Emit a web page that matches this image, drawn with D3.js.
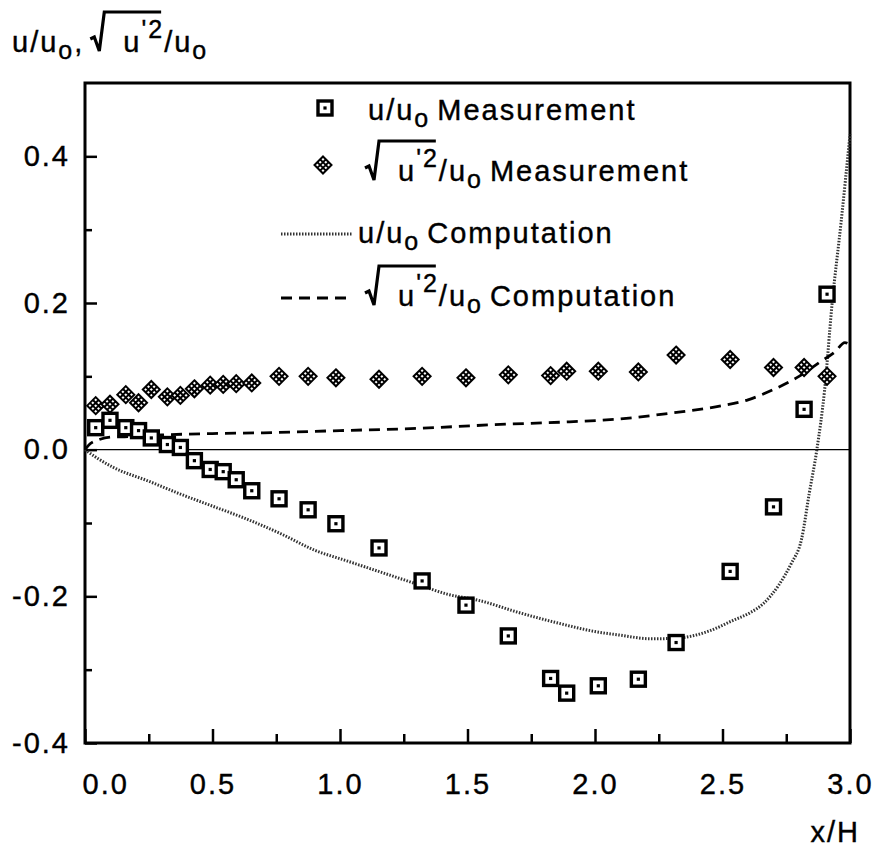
<!DOCTYPE html>
<html>
<head>
<meta charset="utf-8">
<script src="https://cdn.jsdelivr.net/npm/d3@7"></script>
<style>
  body { margin: 0; background: #fff; }
  text { font-family: "Liberation Sans", Arial, sans-serif; fill: #000; stroke: #000; stroke-width: 0.4px; }
</style>
</head>
<body>
<div id="chart"></div>
<script>
// measurement stations (x/H), shared by both measured series
const measX = [0.042, 0.098, 0.16, 0.21, 0.26, 0.323, 0.374, 0.429, 0.491, 0.542, 0.593, 0.654,
  0.761, 0.875, 0.984, 1.153, 1.322, 1.494, 1.66, 1.826, 1.889, 2.013, 2.17, 2.318, 2.53, 2.70, 2.82, 2.91];
const uMeas = [0.030, 0.040, 0.030, 0.026, 0.016, 0.007, 0.003, -0.015, -0.027, -0.030, -0.041, -0.056,
  -0.067, -0.082, -0.101, -0.134, -0.179, -0.212, -0.254, -0.312, -0.332, -0.322, -0.313, -0.263, -0.166, -0.078, 0.055, 0.212];
const rmsMeas = [0.060, 0.062, 0.075, 0.064, 0.082, 0.072, 0.074, 0.083, 0.088, 0.089, 0.090, 0.091,
  0.100, 0.100, 0.098, 0.096, 0.100, 0.098, 0.102, 0.101, 0.107, 0.107, 0.106, 0.129, 0.123, 0.112, 0.112, 0.100];

// computed curves
const uCompX = [0, 0.05, 0.11, 0.25, 0.37, 0.5, 0.63, 0.77, 0.9, 1.03, 1.16, 1.29, 1.42, 1.55, 1.7, 1.85, 2.0,
  2.1, 2.22, 2.32, 2.45, 2.54, 2.61, 2.66, 2.72, 2.77, 2.81, 2.84, 2.87, 2.9, 2.93, 2.965, 3.0];
const uComp = [0, -0.012, -0.024, -0.043, -0.060, -0.077, -0.094, -0.115, -0.137, -0.152, -0.167, -0.182, -0.197,
  -0.206, -0.222, -0.236, -0.248, -0.253, -0.258, -0.257, -0.247, -0.233, -0.222, -0.210, -0.185, -0.155, -0.122,
  -0.06, 0, 0.08, 0.20, 0.31, 0.43];
const rmsCompX = [0, 0.02, 0.05, 0.1, 0.2, 0.3, 0.5, 0.7, 1.0, 1.3, 1.6, 1.9, 2.1, 2.3, 2.5, 2.6, 2.7, 2.8,
  2.88, 2.94, 2.98, 3.0];
const rmsComp = [0, 0.008, 0.013, 0.017, 0.018, 0.020, 0.022, 0.023, 0.026, 0.029, 0.034, 0.038, 0.042, 0.050,
  0.060, 0.068, 0.082, 0.100, 0.119, 0.133, 0.146, 0.143];

const xMajor = [0, 0.5, 1, 1.5, 2, 2.5, 3];
const xMajorLabels = ["0.0", "0.5", "1.0", "1.5", "2.0", "2.5", "3.0"];
const xMinor = [0.25, 0.75, 1.25, 1.75, 2.25, 2.75];
const yMajor = [-0.4, -0.2, 0, 0.2, 0.4];
const yMajorLabels = ["-0.4", "-0.2", "0.0", "0.2", "0.4"];
const yMinor = [-0.3, -0.1, 0.1, 0.3];

const W = 874, H = 847;
const FS = 29, LS = 2, SUB = 25;

const svg = d3.select("#chart").append("svg")
  .attr("width", W).attr("height", H)
  .style("letter-spacing", LS + "px")
  .attr("font-size", FS);

const x = d3.scaleLinear().domain([0, 3]).range([85, 850]);
const y = d3.scaleLinear().domain([-0.4, 0.5]).range([743, 83]);

// axes: ticks point inward
const xAxis = svg.append("g").attr("transform", `translate(0,${y(-0.4)})`)
  .call(d3.axisBottom(x).tickValues(xMajor).tickSizeInner(-14).tickSizeOuter(0).tickPadding(30)
    .tickFormat((d, i) => xMajorLabels[i]));
svg.append("g").attr("transform", `translate(0,${y(-0.4)})`)
  .call(d3.axisBottom(x).tickValues(xMinor).tickSizeInner(-9).tickSizeOuter(0).tickFormat(""));
svg.append("g").attr("transform", `translate(${x(0)},0)`)
  .call(d3.axisLeft(y).tickValues(yMajor).tickSizeInner(-12).tickSizeOuter(0).tickPadding(15)
    .tickFormat((d, i) => yMajorLabels[i]));
svg.append("g").attr("transform", `translate(${x(0)},0)`)
  .call(d3.axisLeft(y).tickValues(yMinor).tickSizeInner(-7).tickSizeOuter(0).tickFormat(""));

svg.selectAll(".domain").remove();
svg.selectAll(".tick line").attr("stroke", "#000").attr("stroke-width", 2.5);
svg.selectAll(".tick text").attr("font-size", FS).attr("font-family", null).attr("fill", "#000");
// first x label sits to the right of the corner
xAxis.selectAll(".tick text").filter((d) => d === 0).attr("text-anchor", "start").attr("dx", "-3");

// frame
svg.append("rect")
  .attr("x", x(0)).attr("y", y(0.5))
  .attr("width", x(3) - x(0)).attr("height", y(-0.4) - y(0.5))
  .attr("fill", "none").attr("stroke", "#000").attr("stroke-width", 3);

// zero line
svg.append("line")
  .attr("x1", x(0)).attr("x2", x(3)).attr("y1", y(0)).attr("y2", y(0))
  .attr("stroke", "#000").attr("stroke-width", 1.2);

// computed curves
const uLine = d3.line().x((d, i) => x(uCompX[i])).y((d) => y(d)).curve(d3.curveMonotoneX);
const rmsLine = d3.line().x((d, i) => x(rmsCompX[i])).y((d) => y(d)).curve(d3.curveMonotoneX);

const dotStyle = (s) => s.attr("fill", "none").attr("stroke", "#333").attr("stroke-width", 3)
  .attr("stroke-dasharray", "1.5 1.5");
const dashStyle = (s) => s.attr("fill", "none").attr("stroke", "#000").attr("stroke-width", 2.8)
  .attr("stroke-dasharray", "11 7");

svg.append("path").datum(uComp).attr("d", uLine).call(dotStyle);
svg.append("path").datum(rmsComp).attr("d", rmsLine).call(dashStyle);

// marker helpers
function squareMark(g) {
  g.append("rect").attr("x", -7).attr("y", -7).attr("width", 14).attr("height", 14)
    .attr("fill", "#fff").attr("stroke", "#000").attr("stroke-width", 3.4);
  g.append("rect").attr("x", -1.6).attr("y", -1.6).attr("width", 3.2).attr("height", 3.2).attr("fill", "#000");
}
function diamondMark(g) {
  const s = 8.5;
  let p = `M0,${-s}L${s},0L0,${s}L${-s},0Z`;
  [1 / 3, 2 / 3].forEach((t) => {
    p += `M${-s + t * s},${t * s}L${t * s},${-s + t * s}`;
    p += `M${-s + t * s},${-t * s}L${t * s},${s - t * s}`;
  });
  g.append("path").attr("d", p).attr("fill", "#fff").attr("stroke", "#000").attr("stroke-width", 2);
}

svg.append("g").selectAll("g").data(rmsMeas).join("g")
  .attr("transform", (d, i) => `translate(${x(measX[i])},${y(d)})`)
  .each(function () { diamondMark(d3.select(this)); });
svg.append("g").selectAll("g").data(uMeas).join("g")
  .attr("transform", (d, i) => `translate(${x(measX[i])},${y(d)})`)
  .each(function () { squareMark(d3.select(this)); });

// text with sub/superscripts laid out piece by piece
function rich(x0, base, parts) {
  let cx = x0;
  parts.forEach((p) => {
    if (p.sqrt) {
      p.x = cx;
      cx += p.w;
      return;
    }
    const t = svg.append("text").attr("x", cx).attr("y", base + (p.dy || 0))
      .attr("font-size", p.size || FS).text(p.t);
    p.x = cx;
    cx += t.node().getComputedTextLength() + (p.gap || 0);
    p.end = cx;
  });
  // radicals extend over the parts up to the superscript
  parts.forEach((p, i) => {
    if (!p.sqrt) return;
    const barEnd = parts[i + p.over].end - 3;
    const sx = p.x;
    svg.append("path")
      .attr("d", `M${sx},${base - 13}L${sx + 4},${base - 15}L${sx + 9},${base - 1}L${sx + 14},${base - 40}L${barEnd},${base - 40}`)
      .attr("fill", "none").attr("stroke", "#000").attr("stroke-width", 3.2).attr("stroke-linejoin", "miter");
  });
  return cx;
}

const uPart = () => [{ t: "u/u" }, { t: "o", dy: 7, size: SUB, gap: 7 }];
const rmsPart = () => [{ sqrt: true, w: 33, over: 2 }, { t: "u", gap: 0 }, { t: "'2", dy: -14, size: SUB, gap: 0 },
  { t: "/u" }, { t: "o", dy: 7, size: SUB, gap: 7 }];

// title
rich(12, 52, [{ t: "u/u" }, { t: "o", dy: 7, size: SUB }, { t: ",", gap: 6 }].concat(rmsPart().slice(0, 4))
  .concat([{ t: "o", dy: 7, size: SUB }]));

// legend
const lg = svg.append("g");
squareMark(lg.append("g").attr("transform", "translate(325,108)"));
rich(368, 120, uPart().concat([{ t: "Measurement" }]));

diamondMark(lg.append("g").attr("transform", "translate(323,165)"));
rich(365, 181, rmsPart().concat([{ t: "Measurement" }]));

lg.append("line").attr("x1", 281).attr("x2", 352).attr("y1", 234).attr("y2", 234).call(dotStyle);
rich(358, 243, uPart().concat([{ t: "Computation" }]));

lg.append("line").attr("x1", 281).attr("x2", 350).attr("y1", 298).attr("y2", 298).call(dashStyle);
rich(365, 306, rmsPart().concat([{ t: "Computation" }]));

// axis title
svg.append("text").attr("x", 860).attr("y", 842).attr("text-anchor", "end").text("x/H");
</script>
</body>
</html>
